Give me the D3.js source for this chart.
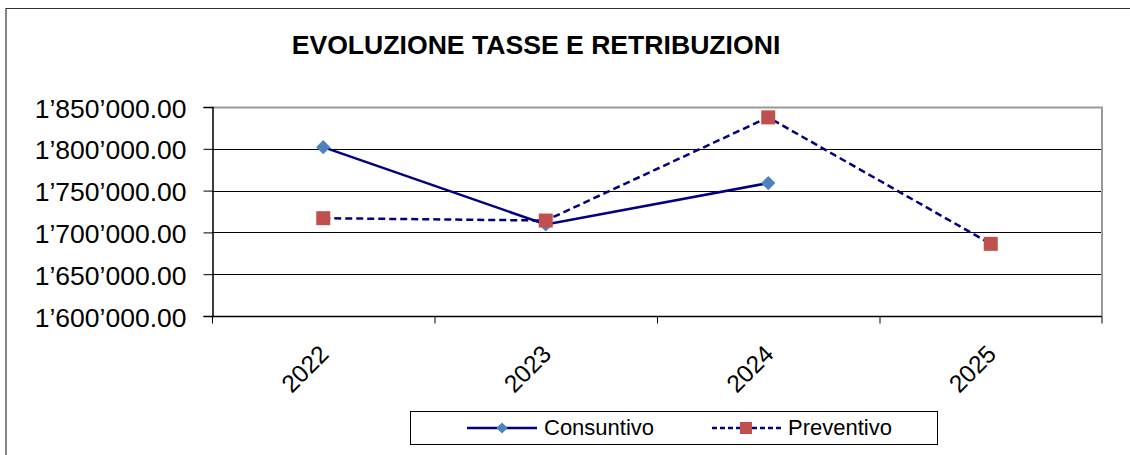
<!DOCTYPE html>
<html>
<head>
<meta charset="utf8">
<title>Evoluzione tasse e retribuzioni</title>
<style>
  body { margin: 0; background: #fff; }
  svg { font-family: "Liberation Sans", Arial, sans-serif; }
  .grid line { stroke: #000; stroke-width: 1; }
  .axis path, .axis line { stroke: #000; }
</style>
<script src="https://cdnjs.cloudflare.com/ajax/libs/d3/7.8.5/d3.min.js"></script>
</head>
<body>
<svg width="1130" height="455"></svg>
<script>
var years = ["2022", "2023", "2024", "2025"];
var consuntivo = [1802000, 1709500, 1759000, null];
var preventivo = [1717000, 1714200, 1837600, 1686300];
var yTicks = [1600000, 1650000, 1700000, 1750000, 1800000, 1850000];

var svg = d3.select("svg");
var pLeft = 212, pRight = 1102, pTop = 107, pBottom = 316;

// outer chart border (cut at right and bottom)
svg.append("path")
    .attr("d", "M6,455 V8.5 H1130")
    .attr("fill", "none")
    .attr("stroke", "#333")
    .attr("stroke-width", 1.2);

svg.append("text")
    .attr("x", 536).attr("y", 54)
    .attr("text-anchor", "middle")
    .attr("font-size", 26.6).attr("font-weight", "bold")
    .text("EVOLUZIONE TASSE E RETRIBUZIONI");

var x = d3.scaleBand().domain(years).range([pLeft, pRight]);
var y = d3.scaleLinear().domain([1600000, 1850000]).range([pBottom, pTop]);

// grid lines
svg.append("g").attr("class", "grid")
    .selectAll("line").data(yTicks.slice(1, -1)).enter().append("line")
    .attr("x1", pLeft).attr("x2", pRight)
    .attr("y1", d => Math.round(y(d)) + 0.5).attr("y2", d => Math.round(y(d)) + 0.5);

// plot area border top/right (gray)
svg.append("path")
    .attr("d", "M" + pLeft + "," + (pTop + 0.5) + " H" + pRight + " V" + pBottom)
    .attr("fill", "none").attr("stroke", "#999").attr("stroke-width", 2);

function fmt(v) {
    return d3.format(",.2f")(v).replace(/,/g, "\u2019");
}

var yAxis = svg.append("g").attr("class", "axis")
    .attr("transform", "translate(" + (pLeft + 0.5) + ",0)")
    .call(d3.axisLeft(y).tickValues(yTicks).tickFormat(fmt).tickSizeOuter(0).tickSize(9).tickPadding(17));
yAxis.selectAll("text").attr("font-size", 26.5).attr("fill", "#000").attr("dy", "0.38em")
    .attr("font-family", "Liberation Sans, Arial, sans-serif");
yAxis.select(".domain").attr("stroke-width", 1.5);

var xAxis = svg.append("g").attr("class", "axis")
    .attr("transform", "translate(0," + (pBottom + 0.5) + ")");
xAxis.append("line").attr("x1", pLeft).attr("x2", pRight).attr("stroke", "#000").attr("stroke-width", 1.5);
xAxis.selectAll(".tk").data(years.concat(["end"])).enter().append("line")
    .attr("class", "tk")
    .attr("x1", (d, i) => i < years.length ? x(d) + 0.5 : pRight)
    .attr("x2", (d, i) => i < years.length ? x(d) + 0.5 : pRight)
    .attr("y1", 0).attr("y2", 7).attr("stroke", "#000");
xAxis.selectAll("text").data(years).enter().append("text")
    .attr("text-anchor", "end")
    .attr("font-size", 24.5)
    .attr("transform", d => "translate(" + (x(d) + x.bandwidth() / 2 + 7) + ",39) rotate(-45)")
    .text(d => d);

var cx = d => x(d) + x.bandwidth() / 2;

var line = d3.line()
    .defined(d => d.v != null)
    .x(d => cx(d.year)).y(d => y(d.v));

var consData = years.map((yr, i) => ({ year: yr, v: consuntivo[i] }));
var prevData = years.map((yr, i) => ({ year: yr, v: preventivo[i] }));

svg.append("path").datum(consData)
    .attr("d", line).attr("fill", "none")
    .attr("stroke", "#000080").attr("stroke-width", 2.5);
svg.append("path").datum(prevData)
    .attr("d", line).attr("fill", "none")
    .attr("stroke", "#000080").attr("stroke-width", 2.5)
    .attr("stroke-dasharray", "7,4");

svg.append("g").selectAll("path").data(consData.filter(d => d.v != null)).enter().append("path")
    .attr("d", d3.symbol().type(d3.symbolDiamond2).size(130))
    .attr("transform", d => "translate(" + cx(d.year) + "," + y(d.v) + ")")
    .attr("fill", "#4F81BD");
svg.append("g").selectAll("rect").data(prevData).enter().append("rect")
    .attr("x", d => cx(d.year) - 7).attr("y", d => y(d.v) - 7)
    .attr("width", 14).attr("height", 14)
    .attr("fill", "#C0504D");

// legend
var lg = svg.append("g");
lg.append("rect").attr("x", 410.5).attr("y", 411.5).attr("width", 527).attr("height", 33)
    .attr("fill", "#fff").attr("stroke", "#000");
lg.append("line").attr("x1", 467).attr("x2", 537).attr("y1", 428).attr("y2", 428)
    .attr("stroke", "#000080").attr("stroke-width", 2.5);
lg.append("path").attr("d", d3.symbol().type(d3.symbolDiamond2).size(80))
    .attr("transform", "translate(502,428)").attr("fill", "#4F81BD");
lg.append("text").attr("x", 544).attr("y", 435).attr("font-size", 22).text("Consuntivo");
lg.append("line").attr("x1", 712).attr("x2", 782).attr("y1", 428).attr("y2", 428)
    .attr("stroke", "#000080").attr("stroke-width", 2.5).attr("stroke-dasharray", "5,3");
lg.append("rect").attr("x", 740).attr("y", 422).attr("width", 12).attr("height", 12).attr("fill", "#C0504D");
lg.append("text").attr("x", 788).attr("y", 435).attr("font-size", 22).text("Preventivo");
</script>
</body>
</html>
